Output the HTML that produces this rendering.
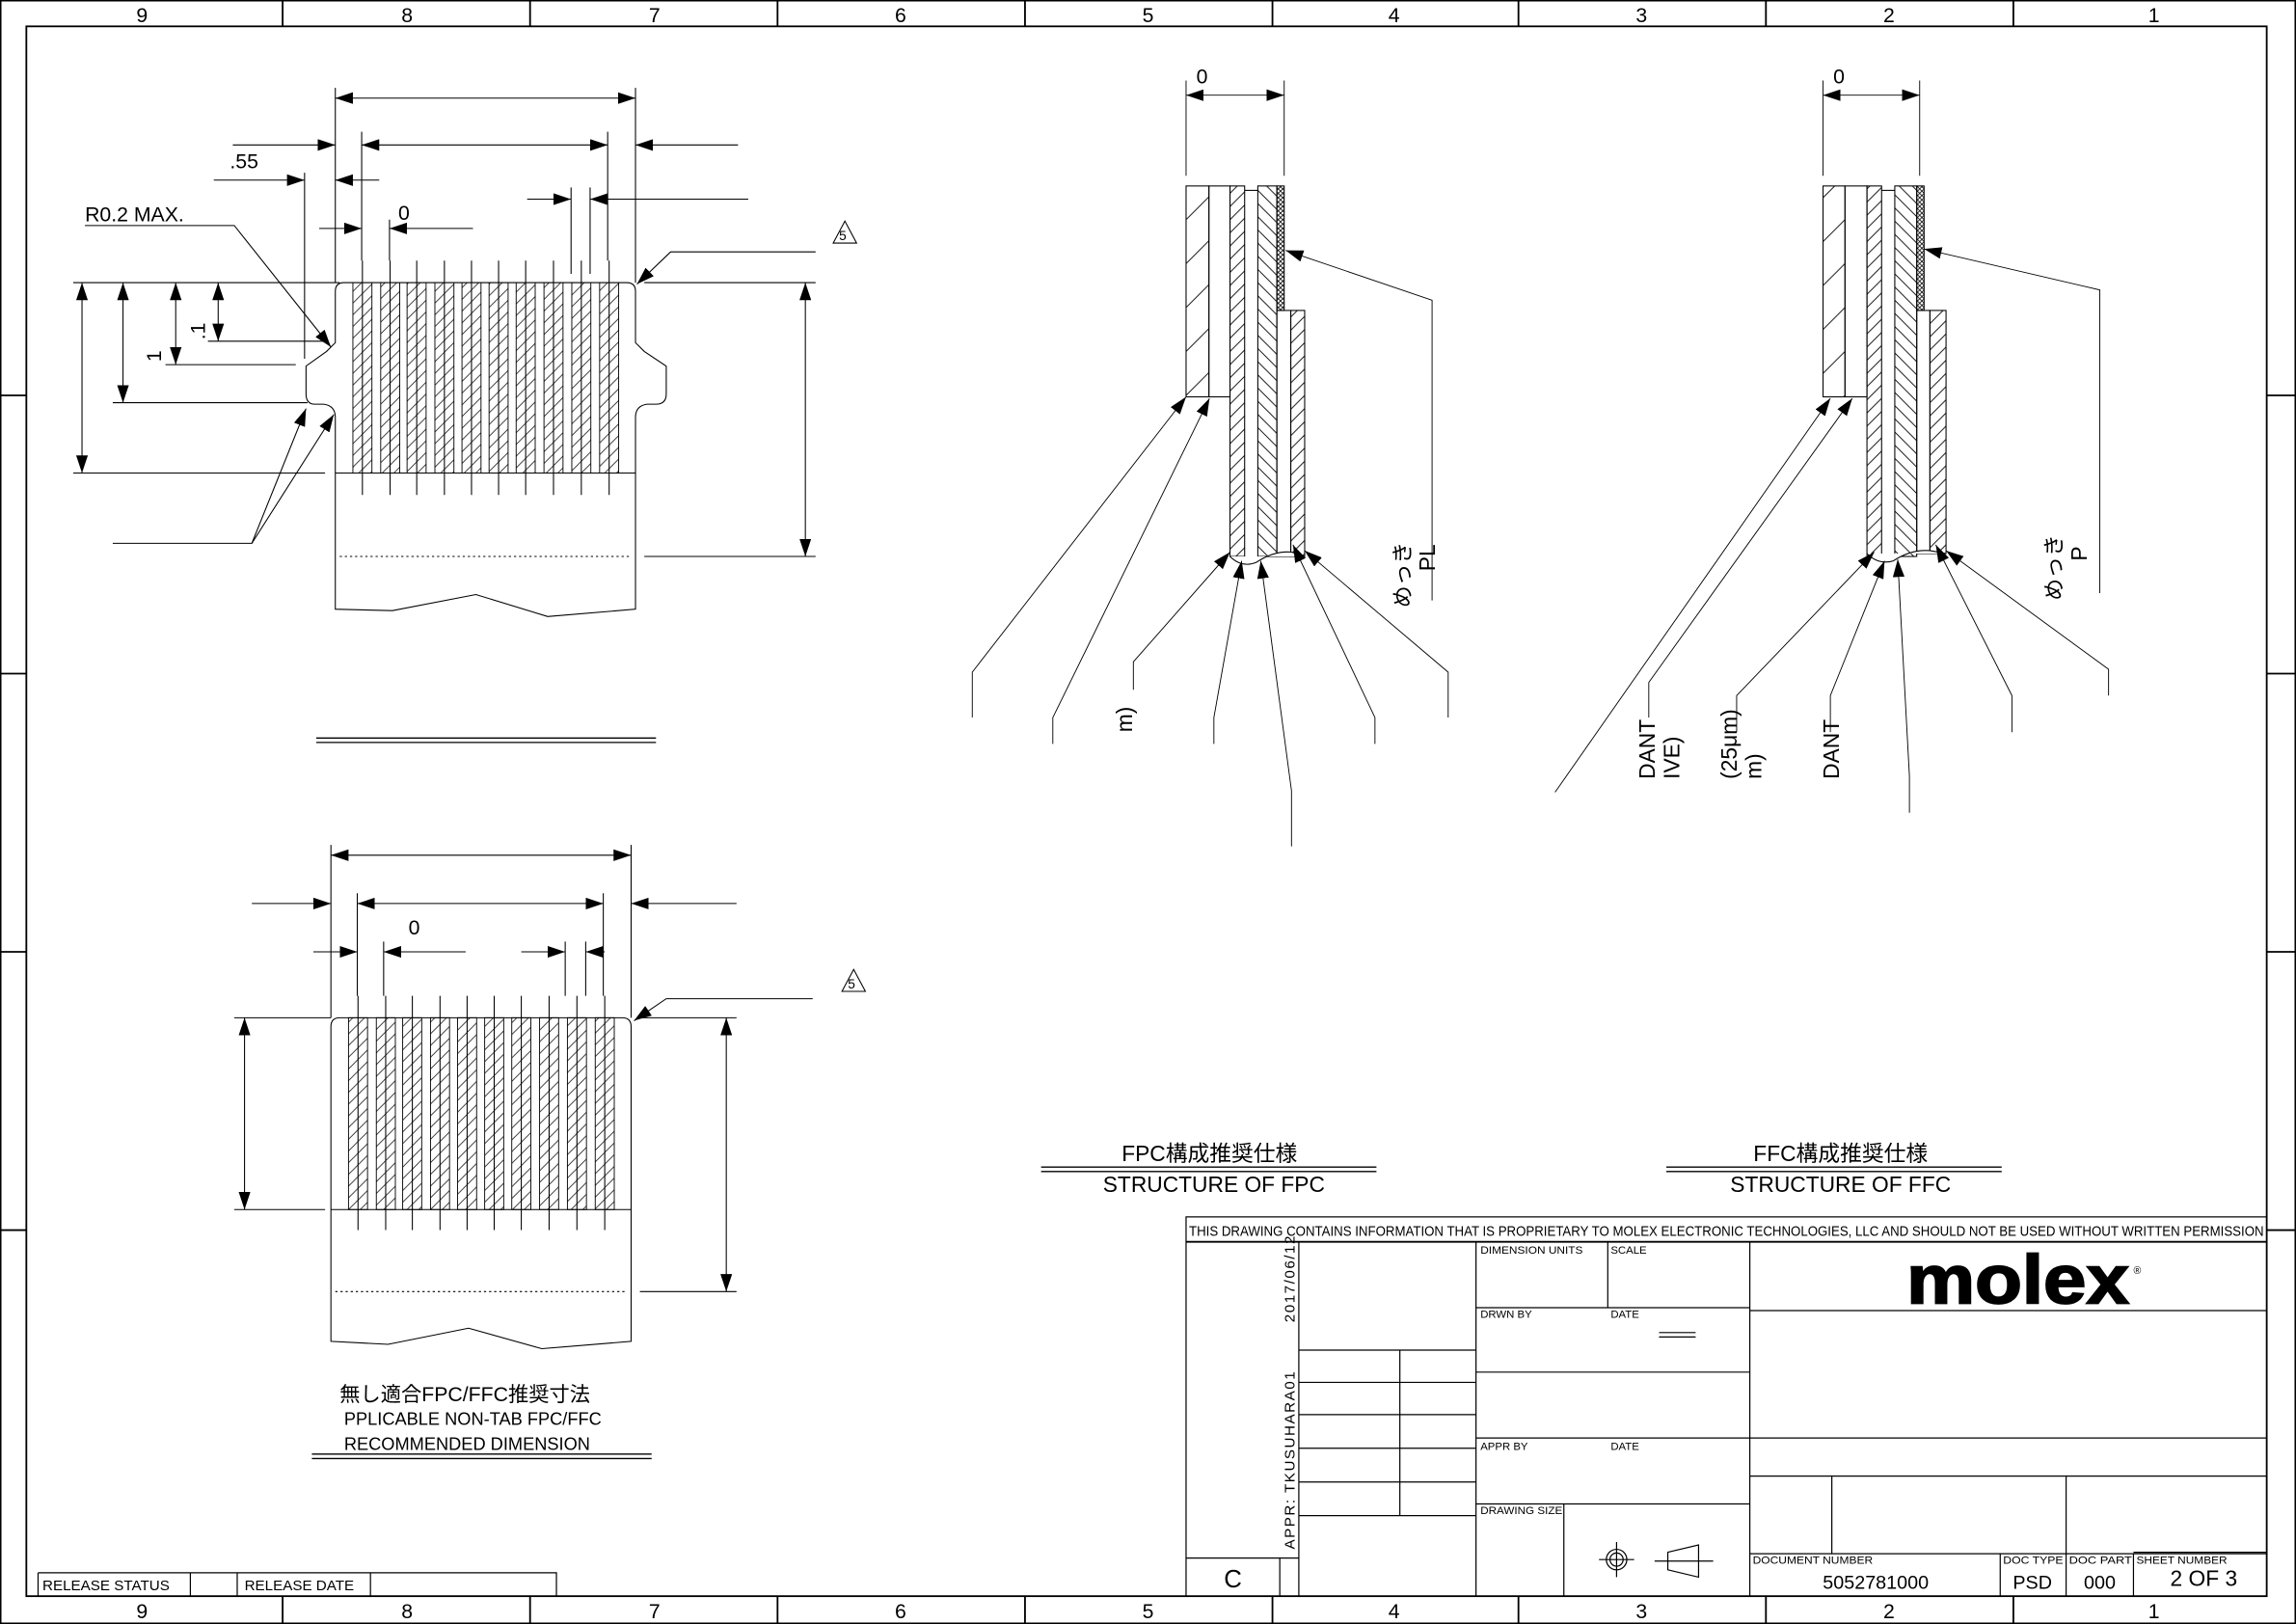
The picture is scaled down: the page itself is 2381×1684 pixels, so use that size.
<!DOCTYPE html>
<html><head><meta charset="utf-8"><style>html,body{margin:0;padding:0;background:#fff}svg{display:block}text{font-family:"Liberation Sans","Noto Sans CJK JP",sans-serif;fill:#000}</style></head>
<body>
<svg width="2381" height="1684" viewBox="0 0 1568 1109" preserveAspectRatio="none" xmlns="http://www.w3.org/2000/svg">
<defs>
<marker id="a" viewBox="0 0 12 8" refX="12" refY="4" markerWidth="12" markerHeight="8" markerUnits="userSpaceOnUse" orient="auto-start-reverse"><path d="M0,0L12,4L0,8z" fill="#000"/></marker>
<pattern id="hc" patternUnits="userSpaceOnUse" width="8" height="8"><path d="M-2,10L10,-2M-2,2L2,-2M6,10L10,6" stroke="#000" stroke-width=".5"/></pattern>
<pattern id="h1" patternUnits="userSpaceOnUse" width="30" height="30"><path d="M-2,32L32,-2" stroke="#000" stroke-width=".6"/></pattern>
<pattern id="h2" patternUnits="userSpaceOnUse" width="9" height="9"><path d="M-1,10L10,-1M-1,1L1,-1M8,10L10,8" stroke="#000" stroke-width=".6"/></pattern>
<pattern id="h3" patternUnits="userSpaceOnUse" width="9" height="9"><path d="M-1,-1L10,10M-1,8L1,10M8,-1L10,1" stroke="#000" stroke-width=".6"/></pattern>
<pattern id="hx" patternUnits="userSpaceOnUse" width="3" height="3"><path d="M0,0L3,3M3,0L0,3" stroke="#000" stroke-width=".5"/></pattern>
</defs>
<g fill="none" stroke="#000" stroke-width=".7">
<rect x=".5" y=".5" width="1567" height="1108" stroke-width="1"/>
<rect x="18" y="18" width="1530" height="1072" stroke-width="1.2"/>
<path d="M193,0V18M362,0V18M531,0V18M700,0V18M869,0V18M1037,0V18M1206,0V18M1375,0V18M193,1090V1109M362,1090V1109M531,1090V1109M700,1090V1109M869,1090V1109M1037,1090V1109M1206,1090V1109M1375,1090V1109M0,270H18M0,460H18M0,650H18M0,840H18M1548,270H1568M1548,460H1568M1548,650H1568M1548,840H1568" stroke-width="1.2"/>
</g>
<g font-size="14" text-anchor="middle">
<text x="97" y="15">9</text><text x="278" y="15">8</text><text x="447" y="15">7</text><text x="615" y="15">6</text><text x="784" y="15">5</text><text x="952" y="15">4</text><text x="1121" y="15">3</text><text x="1290" y="15">2</text><text x="1471" y="15">1</text>
<text x="97" y="1105">9</text><text x="278" y="1105">8</text><text x="447" y="1105">7</text><text x="615" y="1105">6</text><text x="784" y="1105">5</text><text x="952" y="1105">4</text><text x="1121" y="1105">3</text><text x="1290" y="1105">2</text><text x="1471" y="1105">1</text>
</g>

<g stroke="#000" stroke-width=".6">
<rect x="241" y="193" width="13" height="130" fill="url(#hc)"/><rect x="260" y="193" width="13" height="130" fill="url(#hc)"/><rect x="278" y="193" width="13" height="130" fill="url(#hc)"/><rect x="297" y="193" width="13" height="130" fill="url(#hc)"/><rect x="315.5" y="193" width="13" height="130" fill="url(#hc)"/><rect x="334" y="193" width="13" height="130" fill="url(#hc)"/><rect x="352.5" y="193" width="13" height="130" fill="url(#hc)"/><rect x="371.5" y="193" width="13" height="130" fill="url(#hc)"/><rect x="390.5" y="193" width="13" height="130" fill="url(#hc)"/><rect x="409.5" y="193" width="13" height="130" fill="url(#hc)"/>
</g>
<g fill="none" stroke="#000" stroke-width=".7">
<path d="M247.5,178V338M266.4,178V338M284.6,178V338M303.5,178V338M322,178V338M340.5,178V338M359,178V338M378,178V338M397,178V338M416,178V338"/>
<path d="M229,199Q229,193 235,193L428,193Q434,193 434,199L434,234L440,240L455,250L455,269Q455,276 448,276L442,276Q434,277 434,285L434,416L374,421L325,406L268,417L229,416L229,285Q229,277 221,276L215,276Q209,276 209,269L209,250L223,240L229,234Z"/>
<path d="M229,323H434"/>
<path d="M232,380H430" stroke-dasharray="1.5,2"/>
<path d="M229,60V193M434,60V193M247,90V178M415,90V178M208,118V245M266,150V178M390,128V187M403,128V187"/>
<path d="M229,67H434" marker-start="url(#a)" marker-end="url(#a)"/>
<path d="M159,99H229" marker-end="url(#a)"/><path d="M247,99H415" marker-start="url(#a)" marker-end="url(#a)"/><path d="M504,99H434" marker-end="url(#a)"/>
<path d="M146,123H208" marker-end="url(#a)"/><path d="M259,123H229" marker-end="url(#a)"/>
<path d="M218,156H247" marker-end="url(#a)"/><path d="M323,156H266" marker-end="url(#a)"/>
<path d="M360,136H390" marker-end="url(#a)"/><path d="M511,136H403" marker-end="url(#a)"/>
<path d="M58,154H160L226,237" marker-end="url(#a)"/>
<path d="M50,193H232M440,193H557M142,233H223M113,249H202M77,275H210M50,323H222M440,380H557"/>
<path d="M56,193V323" marker-start="url(#a)" marker-end="url(#a)"/>
<path d="M84,193V275" marker-start="url(#a)" marker-end="url(#a)"/>
<path d="M120,193V249" marker-start="url(#a)" marker-end="url(#a)"/>
<path d="M149,193V233" marker-start="url(#a)" marker-end="url(#a)"/>
<path d="M550,193V380" marker-start="url(#a)" marker-end="url(#a)"/>
<path d="M77,371H172L209,279" marker-end="url(#a)"/><path d="M172,371L228,283" marker-end="url(#a)"/>
<path d="M557,172H458L435,194" marker-end="url(#a)"/>
<path d="M569,166L577,151L585,166Z"/>
<path d="M216,504H448M216,507H448" stroke-width=".9"/>
</g>
<g font-size="14">
<text x="157" y="115">.55</text><text x="272" y="150">0</text><text x="58" y="151">R0.2 MAX.</text>
<text x="0" y="0" transform="translate(110,247) rotate(-90)">1</text>
<text x="0" y="0" transform="translate(140,232) rotate(-90)">.1</text>
<text x="573" y="164" font-size="9">5</text>
<text x="579" y="675" font-size="9">5</text>
</g>

<g stroke="#000" stroke-width=".6">
<rect x="238" y="695" width="13" height="131" fill="url(#hc)"/><rect x="257" y="695" width="13" height="131" fill="url(#hc)"/><rect x="275" y="695" width="13" height="131" fill="url(#hc)"/><rect x="294" y="695" width="13" height="131" fill="url(#hc)"/><rect x="312.5" y="695" width="13" height="131" fill="url(#hc)"/><rect x="331" y="695" width="13" height="131" fill="url(#hc)"/><rect x="349.5" y="695" width="13" height="131" fill="url(#hc)"/><rect x="368.5" y="695" width="13" height="131" fill="url(#hc)"/><rect x="387.5" y="695" width="13" height="131" fill="url(#hc)"/><rect x="406.5" y="695" width="13" height="131" fill="url(#hc)"/>
</g>
<g fill="none" stroke="#000" stroke-width=".7">
<path d="M244.5,680V840M263.4,680V840M281.6,680V840M300.5,680V840M319,680V840M337.5,680V840M356,680V840M375,680V840M394,680V840M413,680V840"/>
<path d="M226,701Q226,695 232,695L425,695Q431,695 431,701L431,916L370,921L320,907L265,918L226,916Z"/>
<path d="M226,826H431"/><path d="M229,882H428" stroke-dasharray="1.5,2"/>
<path d="M226,577V695M431,577V695M244,610V680M412,610V680M262,643V680M386,643V680M400,643V680"/>
<path d="M226,584H431" marker-start="url(#a)" marker-end="url(#a)"/>
<path d="M172,617H226" marker-end="url(#a)"/><path d="M244,617H412" marker-start="url(#a)" marker-end="url(#a)"/><path d="M503,617H431" marker-end="url(#a)"/>
<path d="M214,650H244" marker-end="url(#a)"/><path d="M318,650H262" marker-end="url(#a)"/>
<path d="M356,650H386" marker-end="url(#a)"/><path d="M413,650H400" marker-end="url(#a)"/>
<path d="M160,695H226M160,826H222M437,695H503M437,882H503"/>
<path d="M167,695V826" marker-start="url(#a)" marker-end="url(#a)"/>
<path d="M496,695V882" marker-start="url(#a)" marker-end="url(#a)"/>
<path d="M555,682H455L433,697" marker-end="url(#a)"/>
<path d="M575,677L583,662L591,677Z"/>
<path d="M213,993H445M213,996H445" stroke-width=".9"/>
</g>
<text x="279" y="638" font-size="14">0</text>
<text x="232" y="957" font-size="14">無し適合FPC/FFC推奨寸法</text>
<text x="235" y="973" font-size="12">PPLICABLE NON-TAB FPC/FFC</text>
<text x="235" y="990" font-size="12">RECOMMENDED DIMENSION</text>

<g stroke="#000" stroke-width=".7">
<rect x="810" y="127" width="15.6" height="144" fill="url(#h1)"/>
<rect x="825.6" y="127" width="14.4" height="144" fill="none"/>
<rect x="840" y="127" width="10" height="253" fill="url(#h2)"/>
<rect x="859" y="127" width="13" height="253" fill="url(#h3)"/>
<rect x="872" y="127" width="5" height="85" fill="url(#hx)"/>
<rect x="872" y="212" width="9.5" height="168" fill="none"/>
<rect x="881.5" y="212" width="9.5" height="168" fill="url(#h2)"/>
<path d="M850,130H859" fill="none"/>
<path d="M840,380Q848,388 858,384Q870,376 882,377L891,380" fill="#fff"/>
</g>
<g fill="none" stroke="#000" stroke-width=".6">
<path d="M810,55V120M877,55V120"/>
<path d="M810,65H877" marker-start="url(#a)" marker-end="url(#a)"/>
<path d="M664,490V459L810,271" marker-end="url(#a)"/>
<path d="M719,508V490L826,272" marker-end="url(#a)"/>
<path d="M774,471V452L840,377" marker-end="url(#a)"/>
<path d="M829,508V490L848,383" marker-end="url(#a)"/>
<path d="M882,578V540L861,383" marker-end="url(#a)"/>
<path d="M939,508V490L883,372" marker-end="url(#a)"/>
<path d="M989,490V459L891,376" marker-end="url(#a)"/>
<path d="M978,410V205L878,171" marker-end="url(#a)"/>
<path d="M711,797H940M711,800H940" stroke-width=".9"/>
</g>
<text x="817" y="57" font-size="14">0</text>
<text transform="translate(963,415) rotate(-90)" font-size="15">めっき</text>
<text transform="translate(980,390) rotate(-90)" font-size="15">PL</text>
<text transform="translate(773,500) rotate(-90)" font-size="15">m)</text>
<text x="826" y="793" font-size="15" text-anchor="middle">FPC構成推奨仕様</text>
<text x="829" y="814" font-size="15" text-anchor="middle">STRUCTURE OF FPC</text>

<g stroke="#000" stroke-width=".7">
<rect x="1245" y="127" width="15" height="144" fill="url(#h1)"/>
<rect x="1260" y="127" width="15" height="144" fill="none"/>
<rect x="1275" y="127" width="10" height="253" fill="url(#h2)"/>
<rect x="1294" y="127" width="15" height="253" fill="url(#h3)"/>
<rect x="1309" y="127" width="5" height="85" fill="url(#hx)"/>
<rect x="1309" y="212" width="9" height="166" fill="none"/>
<rect x="1318" y="212" width="11" height="166" fill="url(#h2)"/>
<path d="M1285,130H1294" fill="none"/>
<path d="M1275,378Q1283,386 1293,383Q1305,375 1318,376L1329,378" fill="#fff"/>
</g>
<g fill="none" stroke="#000" stroke-width=".6">
<path d="M1245,55V120M1311,55V120"/>
<path d="M1245,65H1311" marker-start="url(#a)" marker-end="url(#a)"/>
<path d="M1062,541L1250,272" marker-end="url(#a)"/>
<path d="M1126,490V466L1265,272" marker-end="url(#a)"/>
<path d="M1186,500V475L1280,377" marker-end="url(#a)"/>
<path d="M1250,500V475L1287,383" marker-end="url(#a)"/>
<path d="M1304,555V530L1296,382" marker-end="url(#a)"/>
<path d="M1374,500V475L1322,372" marker-end="url(#a)"/>
<path d="M1440,475V457L1329,376" marker-end="url(#a)"/>
<path d="M1434,405V198L1314,170" marker-end="url(#a)"/>
<path d="M1138,797H1367M1138,800H1367" stroke-width=".9"/>
</g>
<text x="1252" y="57" font-size="14">0</text>
<text transform="translate(1130,532) rotate(-90)" font-size="15">DANT</text>
<text transform="translate(1147,532) rotate(-90)" font-size="15">IVE)</text>
<text transform="translate(1186,532) rotate(-90)" font-size="15">(25μm)</text>
<text transform="translate(1203,532) rotate(-90)" font-size="15">m)</text>
<text transform="translate(1256,532) rotate(-90)" font-size="15">DANT</text>
<text transform="translate(1408,410) rotate(-90)" font-size="15">めっき</text>
<text transform="translate(1425,383) rotate(-90)" font-size="15">P</text>
<text x="1257" y="793" font-size="15" text-anchor="middle">FFC構成推奨仕様</text>
<text x="1257" y="814" font-size="15" text-anchor="middle">STRUCTURE OF FFC</text>

<g fill="none" stroke="#000" stroke-width=".8">
<rect x="810" y="831" width="738" height="259"/>
<path d="M810,848H1548" stroke-width="1.2"/>
<path d="M887,848V1090M1008,848V1090M1195,848V1090M1098,848V893M1008,893H1195M1008,937H1195M1008,982H1195M1008,1027H1195M1068,1027V1090"/>
<path d="M1195,895H1548M1195,982H1548M1195,1008H1548M1195,1061H1548M1251,1008V1061M1411,1008V1061M1366,1061V1090M1411,1061V1090M1457,1061V1090M1457,1060H1548" />
<path d="M887,922H1008M887,944H1008M887,966H1008M887,989H1008M887,1012H1008M887,1035H1008M956,922V1035M810,1064H887M874,1064V1090"/>
<path d="M1133,910H1158M1133,913H1158"/>
<circle cx="1104" cy="1065" r="7"/><circle cx="1104" cy="1065" r="4.5"/><path d="M1092,1065H1116M1104,1053V1077"/>
<path d="M1139,1060L1160,1055V1077L1139,1072ZM1130,1066H1170" />
<path d="M26,1074H380V1090M26,1074V1090M130,1074V1090M162,1074V1090M253,1074V1090"/>
</g>
<text x="812" y="844" font-size="9.5" textLength="734" lengthAdjust="spacingAndGlyphs">THIS DRAWING CONTAINS INFORMATION THAT IS PROPRIETARY TO MOLEX ELECTRONIC TECHNOLOGIES, LLC AND SHOULD NOT BE USED WITHOUT WRITTEN PERMISSION</text>
<g font-size="7.5">
<text x="1011" y="856" textLength="70" lengthAdjust="spacingAndGlyphs">DIMENSION UNITS</text>
<text x="1100" y="856">SCALE</text>
<text x="1011" y="900">DRWN BY</text><text x="1100" y="900">DATE</text>
<text x="1011" y="990">APPR BY</text><text x="1100" y="990">DATE</text>
<text x="1011" y="1034" textLength="56" lengthAdjust="spacingAndGlyphs">DRAWING SIZE</text>
<text x="1197" y="1068" textLength="82" lengthAdjust="spacingAndGlyphs">DOCUMENT NUMBER</text>
<text x="1368" y="1068" textLength="41" lengthAdjust="spacingAndGlyphs">DOC TYPE</text>
<text x="1413" y="1068" textLength="43" lengthAdjust="spacingAndGlyphs">DOC PART</text>
<text x="1459" y="1068" textLength="62" lengthAdjust="spacingAndGlyphs">SHEET NUMBER</text>
<text x="29" y="1086" font-size="10">RELEASE STATUS</text>
<text x="167" y="1086" font-size="10">RELEASE DATE</text>
</g>
<text x="1281" y="1085" font-size="13" text-anchor="middle">5052781000</text>
<text x="1388" y="1085" font-size="13" text-anchor="middle">PSD</text>
<text x="1434" y="1085" font-size="13" text-anchor="middle">000</text>
<text x="1505" y="1083" font-size="15" text-anchor="middle">2 OF 3</text>
<text x="842" y="1084" font-size="17" text-anchor="middle">C</text>
<text transform="translate(884,903) rotate(-90)" font-size="10" letter-spacing="1">2017/06/12</text>
<text transform="translate(884,1058) rotate(-90)" font-size="10" letter-spacing="1">APPR:  TKUSUHARA01</text>
<text x="1302" y="890" font-size="47" font-weight="bold" stroke="#000" stroke-width="1.2" textLength="152" lengthAdjust="spacingAndGlyphs">molex</text>
<text x="1457" y="870" font-size="7">®</text>
</svg>
</body></html>
